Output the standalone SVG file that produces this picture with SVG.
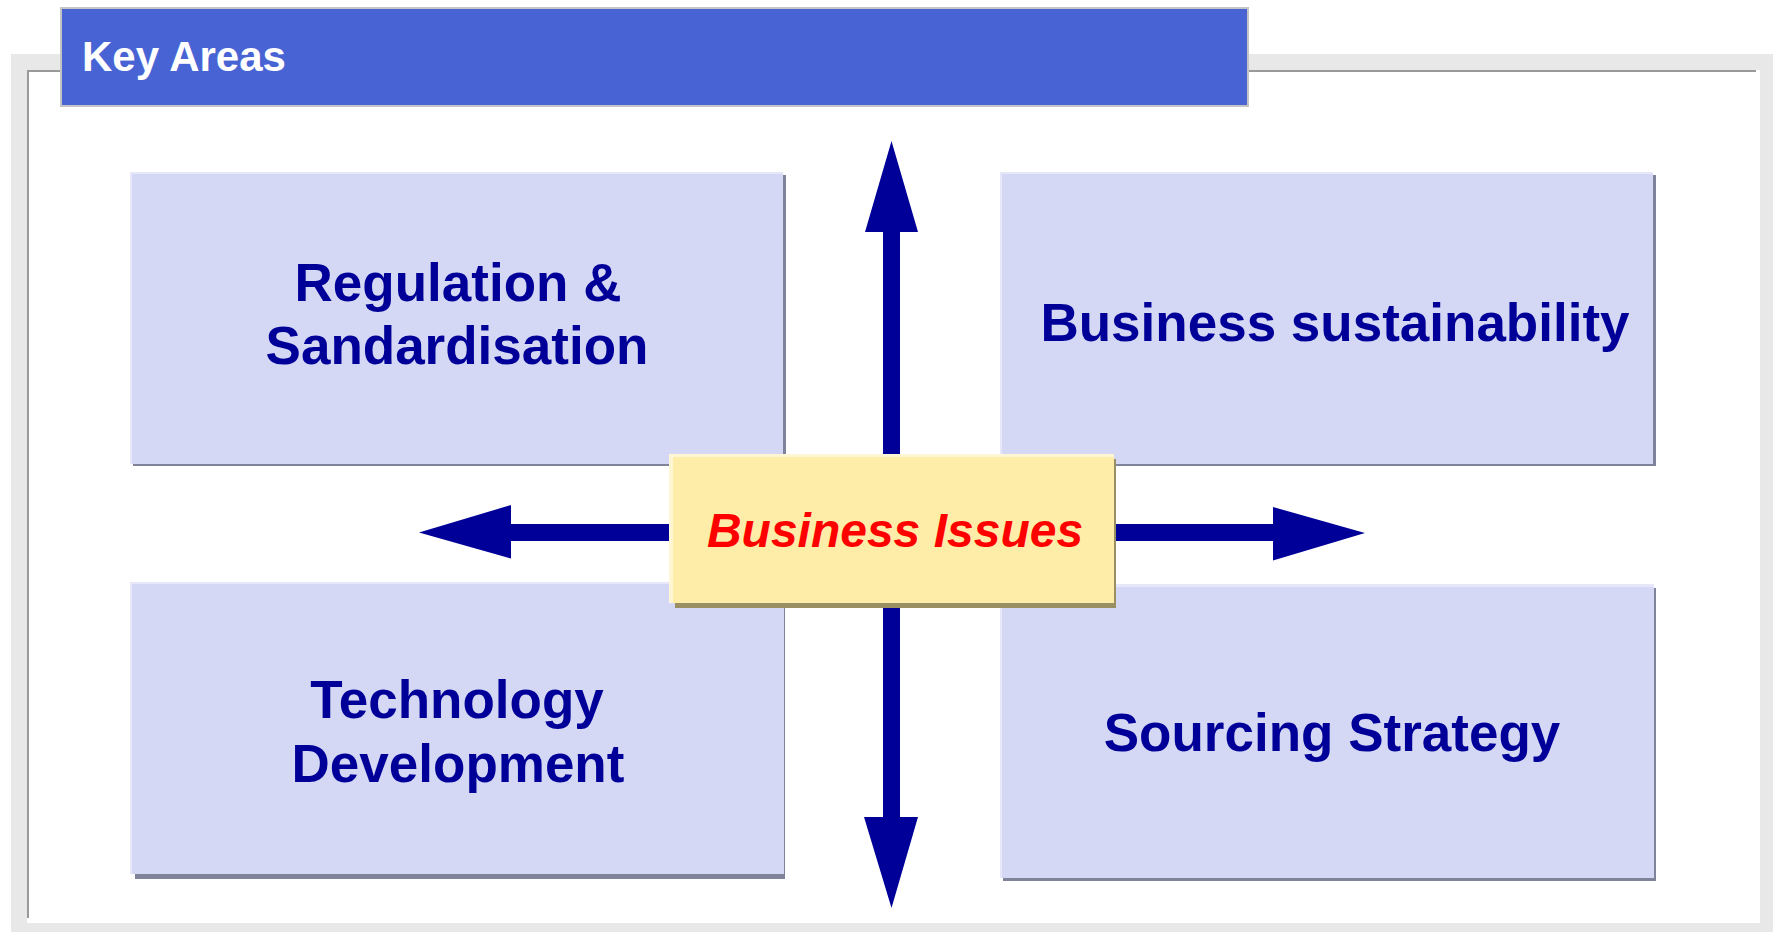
<svg xmlns="http://www.w3.org/2000/svg" width="1773" height="932" viewBox="0 0 1773 932">
<style>
.box{fill:#d4d8f4}
.shd{fill:#80849a}
.hl{fill:#e6e8fa}
.lbl{font-family:"Liberation Sans",Arial,sans-serif;font-weight:bold;font-size:53px;fill:#000099;text-anchor:middle}
.arr{fill:#000099}
</style>
<rect width="1773" height="932" fill="#ffffff"/>
<g id="frame">
<rect x="11" y="54" width="1762" height="878" fill="#e8e8e8"/>
<rect x="27" y="70" width="1733" height="853" fill="#ffffff"/>
<rect x="27" y="70" width="2" height="848" fill="#999999"/>
<rect x="27" y="70" width="1729" height="2" fill="#999999"/>
</g>
<g id="title">
<rect x="61" y="8" width="1187" height="98" fill="#4864d4" stroke="#c4c4c4" stroke-width="2"/>
<text x="82" y="71" font-family="Liberation Sans,Arial,sans-serif" font-weight="bold" font-size="42" fill="#ffffff">Key Areas</text>
</g>
<g id="regulation">
<rect class="shd" x="133" y="175" width="653" height="291"/>
<rect class="box" x="130" y="172" width="653" height="292"/>
<rect class="hl" x="130" y="172" width="653" height="2"/>
<rect class="hl" x="130" y="172" width="2" height="292"/>
<text class="lbl" x="458" y="301">Regulation &amp;</text>
<text class="lbl" x="457" y="364">Sandardisation</text>
</g>
<g id="sustainability">
<rect class="shd" x="1003" y="175" width="653" height="291"/>
<rect class="box" x="1000" y="172" width="653" height="292"/>
<rect class="hl" x="1000" y="172" width="653" height="2"/>
<rect class="hl" x="1000" y="172" width="2" height="292"/>
<text class="lbl" x="1335" y="341">Business sustainability</text>
</g>
<g id="technology">
<rect class="shd" x="135" y="587" width="650" height="292"/>
<rect class="box" x="130" y="582" width="654" height="292"/>
<rect class="hl" x="130" y="582" width="654" height="2"/>
<rect class="hl" x="130" y="582" width="2" height="292"/>
<text class="lbl" x="457" y="718">Technology</text>
<text class="lbl" x="458" y="782">Development</text>
</g>
<g id="sourcing">
<rect class="shd" x="1003" y="588" width="653" height="293"/>
<rect class="box" x="1000" y="585" width="654" height="293"/>
<rect class="hl" x="1000" y="584" width="654" height="3"/>
<rect class="hl" x="1000" y="584" width="2" height="294"/>
<text class="lbl" x="1332" y="751">Sourcing Strategy</text>
</g>
<g id="connectors">
<polygon class="arr" points="883,454 883,232 865,232 891.5,141 918,232 900,232 900,454"/>
<polygon class="arr" points="883,603 883,817 864,817 891.5,908 918,817 900,817 900,603"/>
<polygon class="arr" points="669,524 511,524 511,505 419,532.5 511,558.5 511,541 669,541"/>
<polygon class="arr" points="1114,524 1273,524 1273,507 1365,533 1273,560.5 1273,541 1114,541"/>
</g>
<g id="business-issues">
<rect x="675" y="459" width="441" height="149" fill="#9a8f63"/>
<rect x="669" y="454" width="445" height="149" fill="#feeda8"/>
<rect x="669" y="454" width="445" height="3" fill="#fff6d4"/>
<rect x="669" y="454" width="4" height="149" fill="#fff6d4"/>
<text x="895" y="547" font-family="Liberation Sans,Arial,sans-serif" font-weight="bold" font-style="italic" font-size="48" fill="#ff0000" text-anchor="middle">Business Issues</text>
</g>
</svg>
